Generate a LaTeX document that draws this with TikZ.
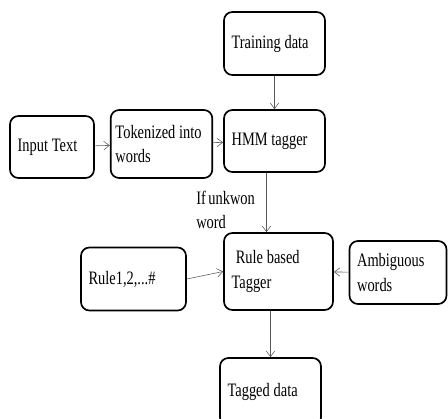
\documentclass[tikz,border=0pt]{standalone}
\usepackage{fontspec}
\setmainfont[FakeStretch=0.76, WordSpace=0.7]{Liberation Serif}
\usetikzlibrary{arrows.meta, positioning}
\newcommand{\tightspace}{\spaceskip=0.2em\relax}

\begin{document}
\begin{tikzpicture}[
  x=0.025cm, y=-0.025cm,
  box/.style={draw, rounded corners=6pt, line width=1.2pt, align=left,
              inner xsep=0.19cm, font=\fontsize{13.5}{17.5}\selectfont,
              execute at begin node=\tightspace},
  flow/.style={-{Straight Barb[length=4pt, width=6pt]}, thin, black!65},
]
\useasboundingbox (0,0) rectangle (448,419);

\node[box, text width=2.145cm, minimum height=1.575cm] (training) at (274.5, 43.5) {Training data};
\node[box, text width=1.72cm, minimum height=1.55cm] (input) at (52, 147) {Input Text};
\node[box, inner xsep=0.12cm, text width=2.3cm, minimum height=1.7cm] (tokens) at (161.5, 144) {Tokenized into\\words};
\node[box, text width=2.145cm, minimum height=1.55cm] (hmm) at (274.5, 141) {HMM tagger};
\node[box, text width=2.345cm, minimum height=1.925cm] (rulebased) at (278.5, 271.5) {\hspace{3pt}Rule based\\Tagger};
\node[box, text width=2.245cm, minimum height=1.575cm] (rules) at (133.5, 279) {Rule1,2,...\#};
\node[box, text width=2.045cm, minimum height=1.575cm] (ambig) at (398, 272.5) {Ambiguous\\words};
\node[box, text width=2.145cm, minimum height=1.7cm] (tagged) at (270.5, 392) {Tagged data};

% Label
\node[font=\fontsize{13.5}{17.5}\selectfont, align=left, anchor=west, inner sep=0pt] (unknown) at (196, 210) {If unkwon\\word};

% Arrows
\draw[flow] (training) -- (hmm);
\draw[flow] (input) -- (tokens);
\draw[flow] (tokens) -- (hmm);
\draw[flow] ([xshift=-0.2cm]hmm.south) -- ([xshift=-0.3cm]rulebased.north);
\draw[flow] (rules.east) -- (rulebased.west);
\draw[flow] (ambig) -- (rulebased);
\draw[flow] ([xshift=-0.2cm]rulebased.south) -- (tagged);
\end{tikzpicture}
\end{document}
